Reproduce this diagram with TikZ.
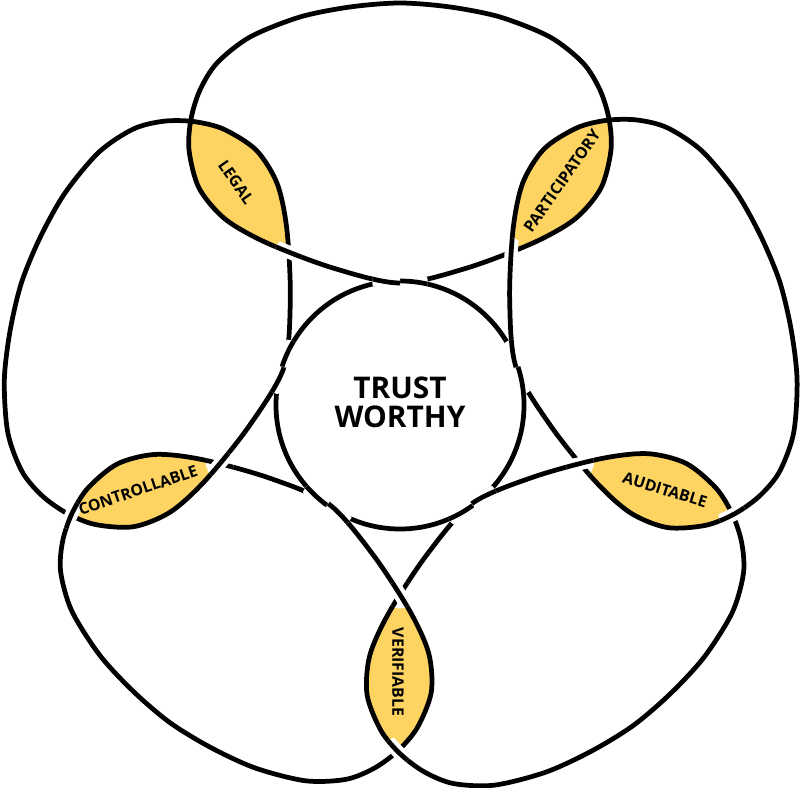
\documentclass[tikz,border=0pt]{standalone}
\usepackage{fontspec}
\setmainfont{Open Sans}
\usetikzlibrary{intersections}

\definecolor{petal}{RGB}{253,212,98}

% one petal, drawn at the top, centre of the picture at the origin
\newcommand{\blobpath}{plot[smooth cycle] coordinates {(0,402) (50,398) (100,388) (150,368) (183,342) (200,315) (209,286) (211,255) (201,217) (175,186) (133,162) (67,137) (0,122) (-67,137) (-133,162) (-175,186) (-201,217) (-211,255) (-209,286) (-200,315) (-183,342) (-150,368) (-100,388) (-50,398)}}

\begin{document}
\begin{tikzpicture}[x=0.02cm, y=0.02cm,
    ring/.style={line width=2.7pt, line join=round},
    over/.style={ring, preaction={draw=white, line width=7.5pt}},
    blobat/.style 2 args={rotate=#1, shift={(0,122)}, scale=#2, shift={(0,-122)}},
    tag/.style={font=\bfseries\fontsize{9}{10}\selectfont, inner sep=0pt},
    core/.style={font=\bfseries\fontsize{17}{16.5}\selectfont, align=center, inner sep=0pt}
  ]
  \useasboundingbox (-400,-382) rectangle (400,405);

  % yellow lenses where two petals meet
  \foreach \a/\s/\b/\t in {72/0.985/0/1, 0/1/-72/0.99, -72/0.99/-144/0.98, -144/0.98/144/0.965, 144/0.965/72/0.985} {
    \begin{scope}
      \clip[blobat={\a}{\s}] \blobpath;
      \fill[petal, blobat={\b}{\t}] \blobpath;
    \end{scope}
  }

  % petals and the centre ring
  \foreach \nm/\a/\s in {top/0/1, rgt/-72/0.99, lrt/-144/0.98, llf/144/0.965, lft/72/0.985}
    \draw[ring, blobat={\a}{\s}, name path global=\nm] \blobpath;
  \draw[ring, name path global=core] (0,0) circle (124);

  % weave at the petal tips: inner tip -> clockwise petal on top
  \foreach \A/\a/\s/\B/\b/\t/\o in {lft/72/0.985/top/0/1/0, top/0/1/rgt/-72/0.99/0, rgt/-72/0.99/lrt/-144/0.98/1, lrt/-144/0.98/llf/144/0.965/1, llf/144/0.965/lft/72/0.985/1} {
    \path[name intersections={of={\A} and {\B}, name=x}];
    \foreach \k in {1,2} {
      \ifnum\o=1
        \begin{scope}
          \clip (x-\k) circle (14);
          \draw[over, blobat={\a}{\s}] \blobpath;
        \end{scope}
      \fi
      \begin{scope}
        \clip (0,0) circle (270);
        \clip (x-\k) circle (14);
        \draw[over, blobat={\b}{\t}] \blobpath;
      \end{scope}
    }
  }

  % weave where each petal touches the ring
  \foreach \nm/\a/\s in {top/0/1, rgt/-72/0.99, lrt/-144/0.98, llf/144/0.965, lft/72/0.985} {
    \path[name intersections={of={core} and {\nm}, name=c}];
    \foreach \k in {1,2} {
      \begin{scope}
        \clip[rotate=\a] (-300,0) rectangle (0,450);
        \clip (c-\k) circle (14);
        \draw[over, blobat={\a}{\s}] \blobpath;
      \end{scope}
      \begin{scope}
        \clip[rotate=\a] (0,0) rectangle (300,450);
        \clip (c-\k) circle (14);
        \draw[over] (0,0) circle (124);
      \end{scope}
    }
  }

  \node[tag, rotate=-55] (legal) at (-164,223) {LEGAL};
  \node[tag, rotate=55] (partic) at (162,224) {PARTICIPATORY};
  \node[tag, rotate=-17] (audit) at (265,-85) {AUDITABLE};
  \node[tag, rotate=-90] (verif) at (-2,-267) {VERIFIABLE};
  \node[tag, rotate=18.6] (contr) at (-262,-85) {CONTROLLABLE};
  \node[core] (trust) at (0,3) {TRUST\\WORTHY};
\end{tikzpicture}
\end{document}
